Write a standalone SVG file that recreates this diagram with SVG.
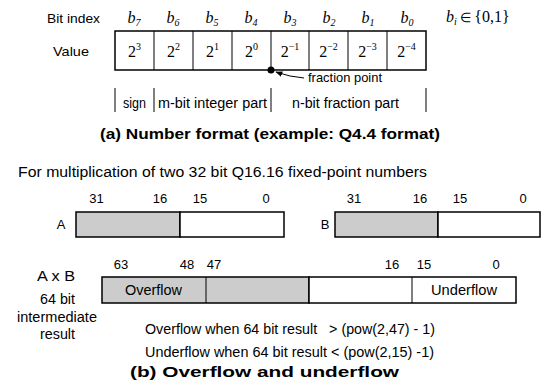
<svg xmlns="http://www.w3.org/2000/svg" width="544" height="391" viewBox="0 0 544 391">
<style>
.s{font-family:"Liberation Sans",Arial,sans-serif;font-size:13px;fill:#000}
.t{font-size:14px}
.c{text-anchor:middle}
.b{font-weight:bold;font-size:15px}
.m{font-family:"Liberation Serif","Times New Roman",serif;font-size:16px;fill:#000}
.i{font-style:italic}
.box{fill:#fff;stroke:#000;stroke-width:1.5}
.g{fill:#ccc;stroke:#000;stroke-width:1.5}
.ln{stroke:#000;stroke-width:1;fill:none}
</style>
<defs>
<marker id="ah" viewBox="0 0 10 10" refX="9" refY="5" markerWidth="7" markerHeight="7" orient="auto"><path d="M0,1 L10,5 L0,9 Z" fill="#000"/></marker>
</defs>
<g id="format-table">
<text class="s" x="47" y="23" textLength="53" lengthAdjust="spacingAndGlyphs">Bit index</text>
<text class="s" x="53" y="56" textLength="36" lengthAdjust="spacingAndGlyphs">Value</text>
<g class="m i c">
<text x="134" y="23">b<tspan font-size="10" dy="3">7</tspan></text>
<text x="173" y="23">b<tspan font-size="10" dy="3">6</tspan></text>
<text x="212" y="23">b<tspan font-size="10" dy="3">5</tspan></text>
<text x="251" y="23">b<tspan font-size="10" dy="3">4</tspan></text>
<text x="290" y="23">b<tspan font-size="10" dy="3">3</tspan></text>
<text x="329" y="23">b<tspan font-size="10" dy="3">2</tspan></text>
<text x="368" y="23">b<tspan font-size="10" dy="3">1</tspan></text>
<text x="407" y="23">b<tspan font-size="10" dy="3">0</tspan></text>
</g>
<text class="m" x="446" y="22" font-size="15"><tspan font-style="italic">b</tspan><tspan font-style="italic" font-size="10" dy="3">i</tspan><tspan dy="-3" font-size="13"> ∈ </tspan><tspan>{0,1}</tspan></text>
<rect class="box" x="115" y="31" width="311" height="39"/>
<path class="ln" stroke-width="1.5" d="M154,31V70M193,31V70M232,31V70M271,31V70M309,31V70M348,31V70M387,31V70"/>
<g class="m c">
<text x="134.5" y="57">2<tspan font-size="10" dy="-7">3</tspan></text>
<text x="173.5" y="57">2<tspan font-size="10" dy="-7">2</tspan></text>
<text x="212.5" y="57">2<tspan font-size="10" dy="-7">1</tspan></text>
<text x="251.5" y="57">2<tspan font-size="10" dy="-7">0</tspan></text>
<text x="290" y="57">2<tspan font-size="10" dy="-7">−1</tspan></text>
<text x="328.5" y="57">2<tspan font-size="10" dy="-7">−2</tspan></text>
<text x="367.5" y="57">2<tspan font-size="10" dy="-7">−3</tspan></text>
<text x="406.5" y="57">2<tspan font-size="10" dy="-7">−4</tspan></text>
</g>
<circle cx="271" cy="70" r="3.5" fill="#000"/>
</g>
<g id="connectors">
<path class="ln" d="M304,78 Q290,77 276,72" marker-end="url(#ah)"/>
</g>
<g id="fraction-label">
<text class="s" x="308" y="82" textLength="74" lengthAdjust="spacingAndGlyphs">fraction point</text>
</g>
<g id="parts">
<path class="ln" d="M115,88V112M154,88V112M271,88V112M426,88V112"/>
<text class="s t" x="123" y="108" textLength="23" lengthAdjust="spacingAndGlyphs">sign</text>
<text class="s t" x="158" y="108" textLength="109" lengthAdjust="spacingAndGlyphs">m-bit integer part</text>
<text class="s t" x="292" y="108" textLength="107" lengthAdjust="spacingAndGlyphs">n-bit fraction part</text>
</g>
<text class="s b" x="100" y="139" textLength="340" lengthAdjust="spacingAndGlyphs">(a) Number format (example: Q4.4 format)</text>
<text class="s t" x="18" y="177" textLength="409" lengthAdjust="spacingAndGlyphs">For multiplication of two 32 bit Q16.16 fixed-point numbers</text>
<g id="A">
<text class="s c" x="96.5" y="203">31</text>
<text class="s c" x="160" y="203">16</text>
<text class="s c" x="200" y="203">15</text>
<text class="s c" x="266" y="203">0</text>
<text class="s c" x="61" y="229">A</text>
<rect class="g" x="76" y="212" width="104" height="25"/>
<rect class="box" x="180" y="212" width="104" height="25"/>
</g>
<g id="B">
<text class="s c" x="354" y="203">31</text>
<text class="s c" x="420" y="203">16</text>
<text class="s c" x="460" y="203">15</text>
<text class="s c" x="523" y="203">0</text>
<text class="s c" x="325" y="229">B</text>
<rect class="g" x="335" y="212" width="103" height="25"/>
<rect class="box" x="438" y="212" width="102" height="25"/>
</g>
<g id="AxB">
<text class="s c" x="121" y="269">63</text>
<text class="s c" x="187" y="269">48</text>
<text class="s c" x="214" y="269">47</text>
<text class="s c" x="392" y="269">16</text>
<text class="s c" x="424" y="269">15</text>
<text class="s c" x="496" y="269">0</text>
<text class="s t" x="37" y="281" textLength="38" lengthAdjust="spacingAndGlyphs">A x B</text>
<text class="s t" x="40" y="304" textLength="35" lengthAdjust="spacingAndGlyphs">64 bit</text>
<text class="s t" x="17" y="322" textLength="80" lengthAdjust="spacingAndGlyphs">intermediate</text>
<text class="s t" x="40" y="339" textLength="35" lengthAdjust="spacingAndGlyphs">result</text>
<rect class="g" x="102" y="277" width="207" height="26"/>
<rect class="box" x="309" y="277" width="207" height="26"/>
<path class="ln" stroke-width="1.5" d="M206,277V303M412,277V303"/>
<text class="s t" x="125" y="295" textLength="57" lengthAdjust="spacingAndGlyphs">Overflow</text>
<text class="s t" x="431" y="295" textLength="66" lengthAdjust="spacingAndGlyphs">Underflow</text>
</g>
<text class="s t" x="145" y="334" xml:space="preserve" textLength="290" lengthAdjust="spacingAndGlyphs">Overflow when 64 bit result   &gt; (pow(2,47) - 1)</text>
<text class="s t" x="145" y="357" textLength="289" lengthAdjust="spacingAndGlyphs">Underflow when 64 bit result &lt; (pow(2,15) -1)</text>
<text class="s b" x="130" y="377" textLength="269" lengthAdjust="spacingAndGlyphs">(b) Overflow and underflow</text>
</svg>
